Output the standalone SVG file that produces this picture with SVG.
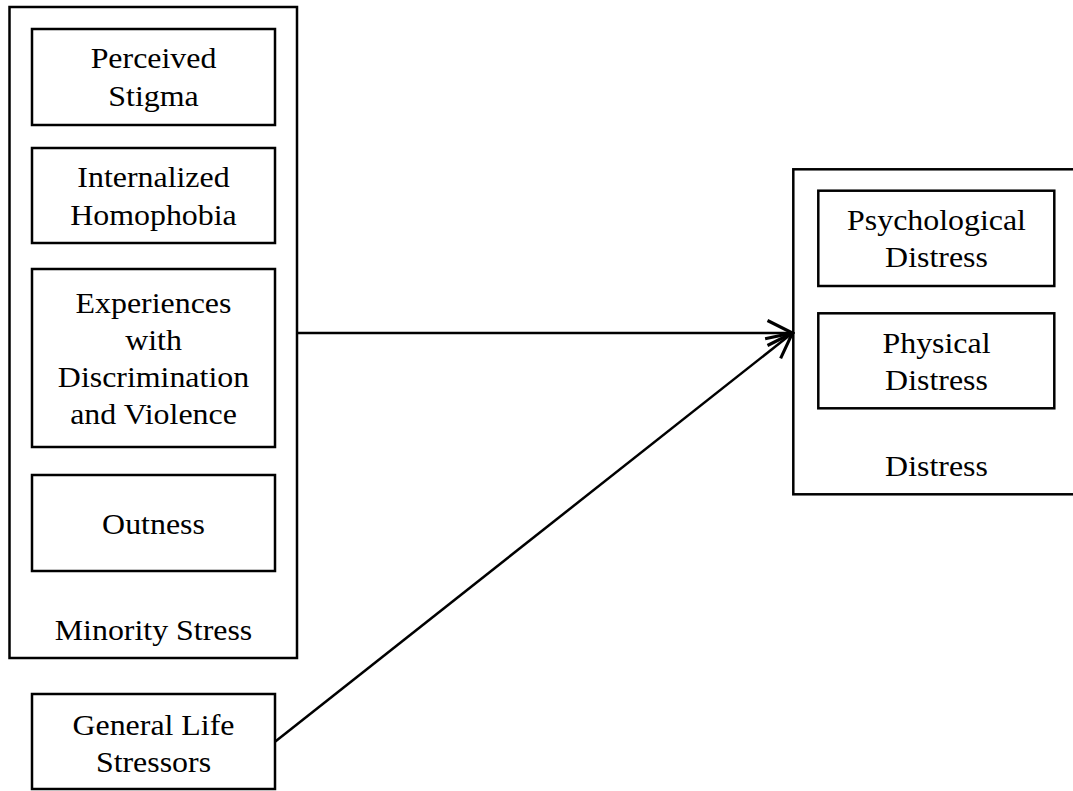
<svg xmlns="http://www.w3.org/2000/svg" width="1073" height="791" viewBox="0 0 1073 791">
<style>
rect{fill:#fff;stroke:#000;stroke-width:2.5}
text{font-family:"Liberation Serif","Times New Roman",serif;font-size:29px;fill:#000;text-anchor:middle}
.c{stroke:#000;stroke-width:2.5;fill:none}
</style>
<defs>
<marker id="ah" markerUnits="userSpaceOnUse" markerWidth="30" markerHeight="30" viewBox="-22 -12 24 24" refX="0" refY="0" orient="auto">
<path d="M-20,-10 L0,0 L-20,10" fill="none" stroke="#000" stroke-width="2.5"/>
</marker>
</defs>
<rect width="1073" height="791" style="stroke:none"/>
<g id="minority">
<rect x="9.5" y="7" width="287.5" height="651"/>
<text transform="matrix(1.1 0 0 1 -15.35 0)" x="153.5" y="640">Minority Stress</text>
</g>
<g id="perceived">
<rect x="32" y="29" width="243" height="96"/>
<g transform="matrix(1.1 0 0 1 -15.35 0)"><text x="153.5" y="68.3">Perceived</text><text x="153.5" y="106">Stigma</text></g>
</g>
<g id="internalized">
<rect x="32" y="148" width="243" height="95"/>
<g transform="matrix(1.1 0 0 1 -15.35 0)"><text x="153.5" y="187.3">Internalized</text><text x="153.5" y="225">Homophobia</text></g>
</g>
<g id="experiences">
<rect x="32" y="269" width="243" height="178"/>
<g transform="matrix(1.1 0 0 1 -15.35 0)"><text x="153.5" y="313.3">Experiences</text><text x="153.5" y="350">with</text><text x="153.5" y="387.3">Discrimination</text><text x="153.5" y="424">and Violence</text></g>
</g>
<g id="outness">
<rect x="32" y="475" width="243" height="96"/>
<g transform="matrix(1.1 0 0 1 -15.35 0)"><text x="153.5" y="534.3">Outness</text></g>
</g>
<g id="general">
<rect x="32" y="694" width="243" height="95"/>
<g transform="matrix(1.1 0 0 1 -15.35 0)"><text x="153.5" y="735">General Life</text><text x="153.5" y="771.7">Stressors</text></g>
</g>
<g id="distress">
<rect x="793.3" y="169.3" width="290" height="325"/>
<g transform="matrix(1.1 0 0 1 -93.65 0)"><text x="936.5" y="476">Distress</text></g>
</g>
<g id="psychological">
<rect x="818.3" y="190.7" width="236" height="95.3"/>
<g transform="matrix(1.1 0 0 1 -93.65 0)"><text x="936.5" y="230">Psychological</text><text x="936.5" y="266.7">Distress</text></g>
</g>
<g id="physical">
<rect x="818.3" y="313.3" width="236" height="95"/>
<g transform="matrix(1.1 0 0 1 -93.65 0)"><text x="936.5" y="353.3">Physical</text><text x="936.5" y="390">Distress</text></g>
</g>
<g id="connectors">
<line class="c" x1="297" y1="333" x2="792.5" y2="333" marker-end="url(#ah)"/>
<line class="c" x1="275" y1="741.7" x2="792.5" y2="333" marker-end="url(#ah)"/>
</g>
</svg>
